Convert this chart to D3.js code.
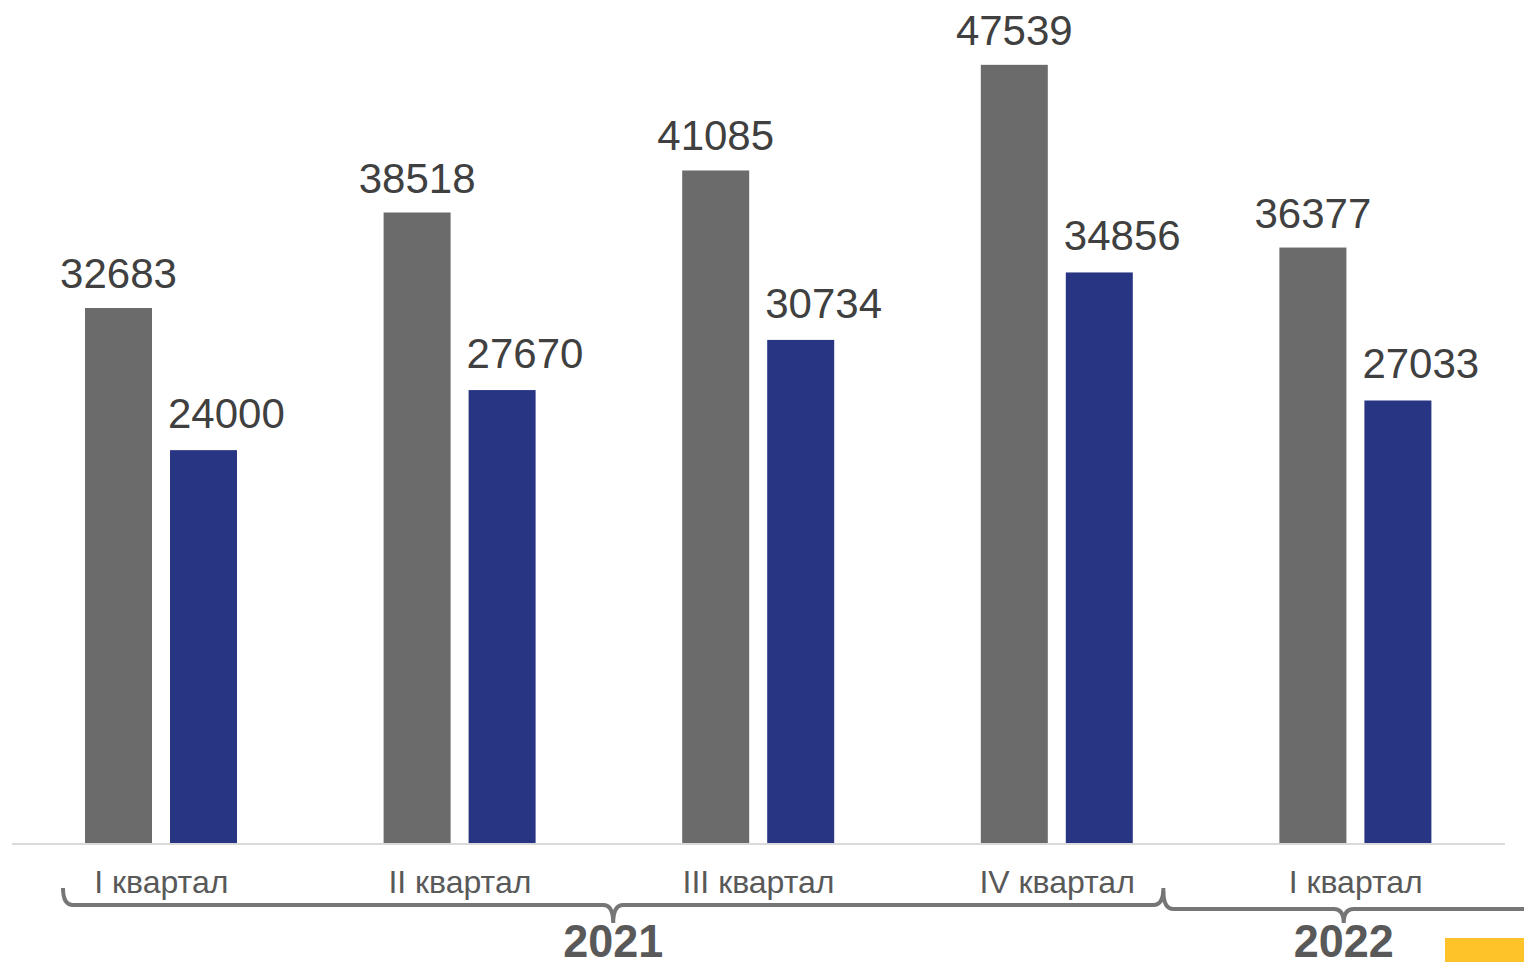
<!DOCTYPE html>
<html>
<head>
<meta charset="utf-8">
<script src="https://cdn.jsdelivr.net/npm/d3@7.9.0/dist/d3.min.js"></script>
<style>
  html, body { margin: 0; padding: 0; background: #fff; }
  svg { display: block; font-family: 'Liberation Sans', Arial, sans-serif; }
</style>
</head>
<body>
<div id="chart"></div>
<script>
const quarters = ['I квартал', 'II квартал', 'III квартал', 'IV квартал', 'I квартал'];
const seriesA = [32683, 38518, 41085, 47539, 36377];
const seriesB = [24000, 27670, 30734, 34856, 27033];
const years = [
  { label: '2021', from: 0, to: 3 },
  { label: '2022', from: 4, to: 4 },
];

const width = 1524;
const height = 962;
const baseline = 843;

const svg = d3.select('#chart').append('svg')
  .attr('width', width)
  .attr('height', height);

const x0 = d3.scaleBand().domain(d3.range(quarters.length)).range([12, 1505]).padding(0);
const x1 = d3.scaleBand().domain(['a', 'b']).range([73, 225]).paddingInner(0.2118).paddingOuter(0);
const y = d3.scaleLinear().domain([0, 51500]).range([baseline, 0]);
const colors = { a: '#6b6b6b', b: '#283583' };

const rows = quarters.map((q, i) => ({ i, q, a: seriesA[i], b: seriesB[i] }));

const groups = svg.append('g').selectAll('g').data(rows).join('g')
  .attr('transform', d => `translate(${x0(d.i)}, 0)`);

groups.selectAll('rect')
  .data(d => ['a', 'b'].map(k => ({ k, v: d[k] })))
  .join('rect')
  .attr('x', d => x1(d.k))
  .attr('y', d => y(d.v))
  .attr('width', x1.bandwidth())
  .attr('height', d => y(0) - y(d.v))
  .attr('fill', d => colors[d.k]);

// grey labels centred, blue labels roughly left-aligned with their bar
groups.selectAll('text.val')
  .data(d => ['a', 'b'].map(k => ({ k, v: d[k] })))
  .join('text')
  .attr('class', 'val')
  .attr('x', d => d.k === 'a' ? x1(d.k) + x1.bandwidth() / 2 : x1(d.k) - 2)
  .attr('y', d => y(d.v) - (d.k === 'a' ? 20 : 22))
  .attr('text-anchor', d => d.k === 'a' ? 'middle' : 'start')
  .attr('font-size', 42)
  .attr('fill', '#404040')
  .text(d => d.v);

// axis
const xAxis = d3.axisBottom(x0).tickSize(0).tickPadding(27).tickFormat(i => quarters[i]);
const ax = svg.append('g').attr('transform', `translate(0, ${baseline})`).call(xAxis);
ax.select('.domain').attr('stroke', '#d9d9d9').attr('stroke-width', 2).attr('d', 'M12,1H1505');
ax.selectAll('.tick text')
  .attr('font-family', "'Liberation Sans', Arial, sans-serif")
  .attr('font-size', 32)
  .attr('fill', '#595959');

// year braces
function bracePath(xa, xb, yTop, yLine, yDip, openRight) {
  const c = (xa + xb) / 2;
  const r = 10;
  let p = `M${xa},${yTop} Q${xa},${yLine} ${xa + r},${yLine}`;
  p += ` L${c - r},${yLine} Q${c},${yLine} ${c},${yDip} Q${c},${yLine} ${c + r},${yLine}`;
  if (openRight) {
    p += ` L${xb},${yLine}`;
  } else {
    p += ` L${xb - r},${yLine} Q${xb},${yLine} ${xb},${yTop}`;
  }
  return p;
}

const braceG = svg.append('g');
years.forEach((yr, idx) => {
  const left = idx === 0 ? x0(yr.from) + 51 : x0(yr.from) - 43;
  const last = idx === years.length - 1;
  const right = last ? width : x0(yr.to) + x0.bandwidth() - 43;
  const yLine = idx === 0 ? 905 : 909;
  const yTop = idx === 0 ? 888 : 891;
  braceG.append('path')
    .attr('d', bracePath(left, right, yTop, yLine, 923, last))
    .attr('fill', 'none')
    .attr('stroke', '#767676')
    .attr('stroke-width', 4);
  braceG.append('text')
    .attr('x', (left + right) / 2)
    .attr('y', 957)
    .attr('text-anchor', 'middle')
    .attr('font-size', 46)
    .attr('font-weight', 'bold')
    .attr('textLength', 100)
    .attr('lengthAdjust', 'spacingAndGlyphs')
    .attr('fill', '#595959')
    .text(yr.label);
});

svg.append('rect')
  .attr('x', 1445).attr('y', 938)
  .attr('width', 79).attr('height', 24)
  .attr('fill', '#ffc32a');
</script>
</body>
</html>
